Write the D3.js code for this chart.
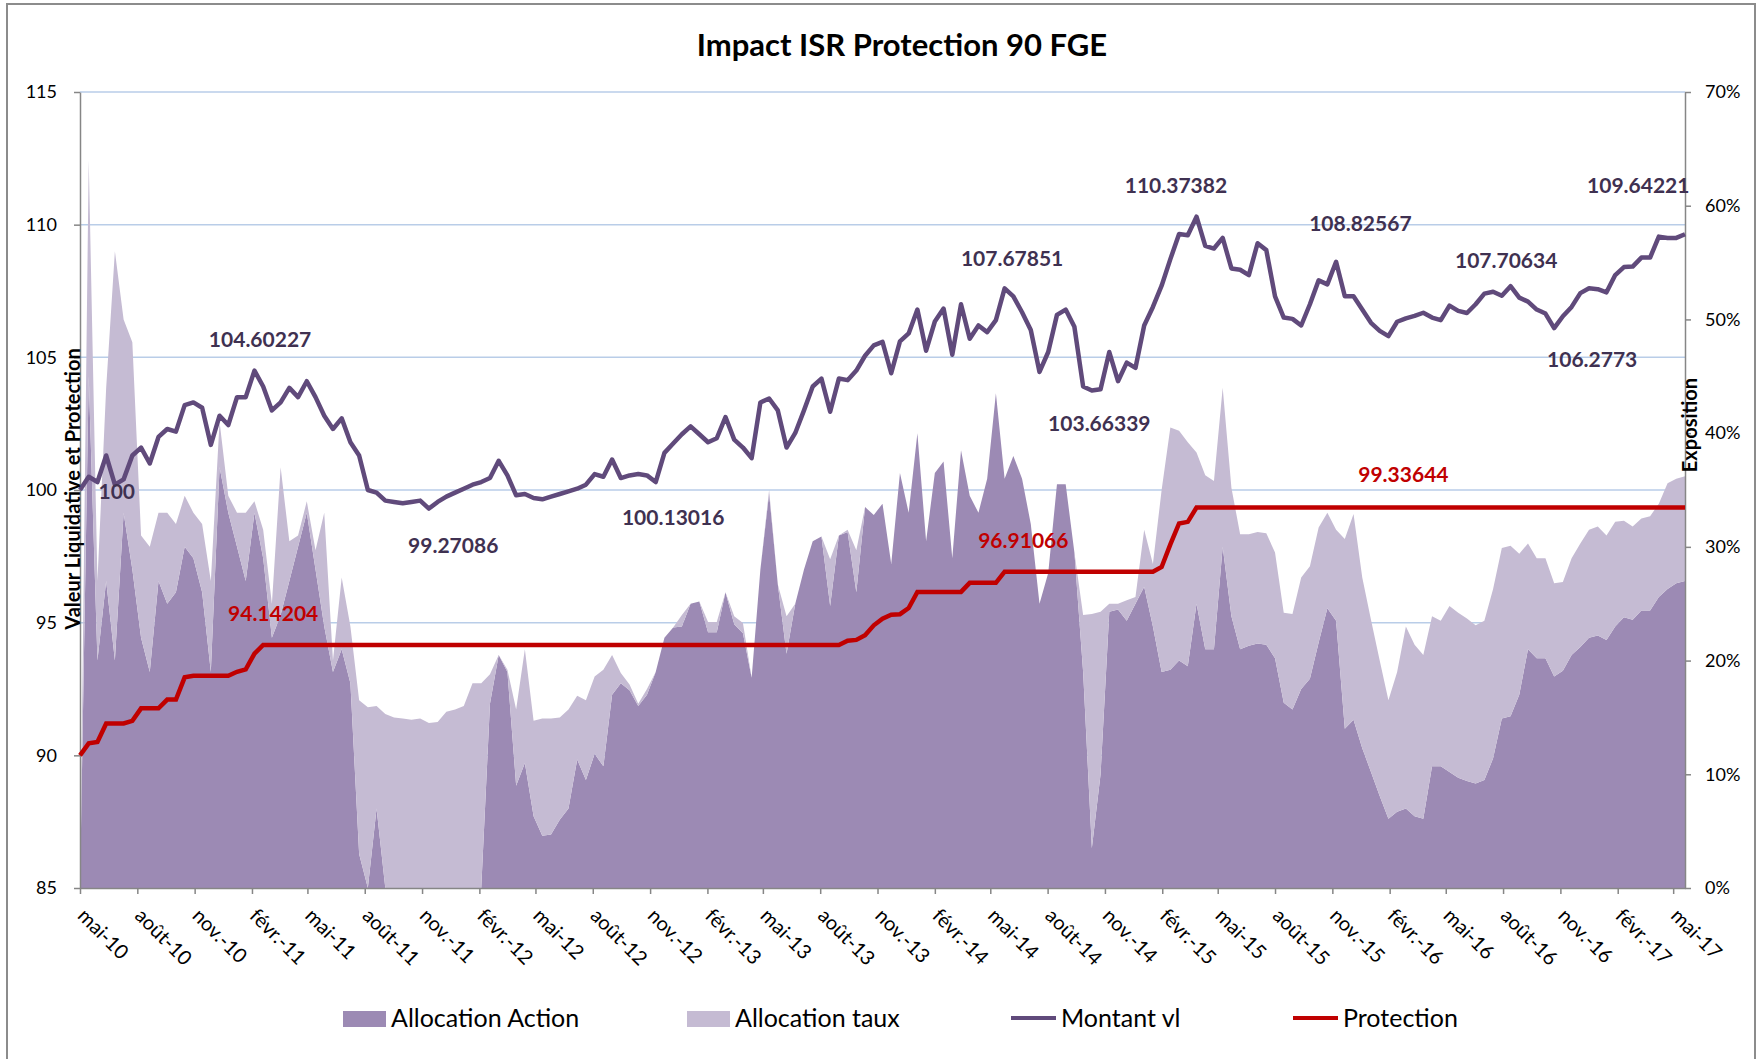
<!DOCTYPE html>
<html>
<head>
<meta charset="utf-8">
<script src="https://cdn.jsdelivr.net/npm/d3@7"></script>
<style>
  body { margin: 0; background: #ffffff; }
  svg { display: block; font-family: Lato, "Open Sans", sans-serif; }
</style>
</head>
<body>
<svg id="main-svg"></svg>
<script>
// DATA (one point every two weeks from the start date)
const START_DATE = "2010-05-01"
const STEP_DAYS = 14

const montantVl = [
  100.0, 100.5, 100.3, 101.3, 100.2, 100.4, 101.3, 101.6, 101.0, 102.0,
  102.3, 102.2, 103.2, 103.3, 103.1, 101.7, 102.8, 102.45, 103.5, 103.5,
  104.5, 103.9, 103.0, 103.3, 103.85, 103.5, 104.1, 103.5, 102.8, 102.3,
  102.7, 101.8, 101.3, 100.0, 99.9, 99.6, 99.55, 99.5, 99.55, 99.6,
  99.3, 99.55, 99.75, 99.9, 100.05, 100.2, 100.3, 100.45, 101.1, 100.55,
  99.8, 99.85, 99.7, 99.65, 99.75, 99.85, 99.95, 100.05, 100.2, 100.6,
  100.5, 101.15, 100.45, 100.55, 100.6, 100.55, 100.3, 101.4, 101.75, 102.1,
  102.4, 102.1, 101.8, 101.95, 102.75, 101.9, 101.6, 101.2, 103.3, 103.45,
  103.0, 101.6, 102.15, 103.0, 103.9, 104.2, 102.95, 104.2, 104.14, 104.5,
  105.06, 105.45, 105.58, 104.4, 105.6, 105.9, 106.8, 105.25, 106.35, 106.84,
  105.1, 107.0, 105.7, 106.2, 105.95, 106.4, 107.6, 107.3, 106.7, 106.03,
  104.45, 105.2, 106.6, 106.8, 106.15, 103.9, 103.75, 103.8, 105.2, 104.1,
  104.8, 104.6, 106.2, 106.9, 107.7, 108.7, 109.65, 109.6, 110.3, 109.2,
  109.1, 109.5, 108.35, 108.3, 108.1, 109.3, 109.04, 107.3, 106.5, 106.45,
  106.2, 107.0, 107.9, 107.75, 108.6, 107.3, 107.3, 106.8, 106.3, 106.0,
  105.8, 106.34, 106.47, 106.56, 106.68, 106.5, 106.4, 106.95, 106.75, 106.67,
  107.0, 107.4, 107.47, 107.32, 107.68, 107.25, 107.1, 106.8, 106.65, 106.1,
  106.55, 106.9, 107.42, 107.6, 107.57, 107.45, 108.1, 108.4, 108.42, 108.76,
  108.76, 109.55, 109.5, 109.5, 109.64
]

const protection = [
  90.0, 90.45, 90.5, 91.2, 91.2, 91.2, 91.3, 91.77, 91.77, 91.77,
  92.1, 92.1, 92.94, 93.0, 93.0, 93.0, 93.0, 93.0, 93.15, 93.24,
  93.83, 94.16, 94.16, 94.16, 94.16, 94.16, 94.16, 94.16, 94.16, 94.16,
  94.16, 94.16, 94.16, 94.16, 94.16, 94.16, 94.16, 94.16, 94.16, 94.16,
  94.16, 94.16, 94.16, 94.16, 94.16, 94.16, 94.16, 94.16, 94.16, 94.16,
  94.16, 94.16, 94.16, 94.16, 94.16, 94.16, 94.16, 94.16, 94.16, 94.16,
  94.16, 94.16, 94.16, 94.16, 94.16, 94.16, 94.16, 94.16, 94.16, 94.16,
  94.16, 94.16, 94.16, 94.16, 94.16, 94.16, 94.16, 94.16, 94.16, 94.16,
  94.16, 94.16, 94.16, 94.16, 94.16, 94.16, 94.16, 94.16, 94.32, 94.35,
  94.53, 94.9, 95.15, 95.3, 95.32, 95.55, 96.16, 96.16, 96.16, 96.16,
  96.16, 96.16, 96.5, 96.5, 96.5, 96.5, 96.92, 96.92, 96.92, 96.92,
  96.92, 96.92, 96.92, 96.92, 96.92, 96.92, 96.92, 96.92, 96.92, 96.92,
  96.92, 96.92, 96.92, 96.92, 97.1, 97.95, 98.74, 98.8, 99.34, 99.34,
  99.34, 99.34, 99.34, 99.34, 99.34, 99.34, 99.34, 99.34, 99.34, 99.34,
  99.34, 99.34, 99.34, 99.34, 99.34, 99.34, 99.34, 99.34, 99.34, 99.34,
  99.34, 99.34, 99.34, 99.34, 99.34, 99.34, 99.34, 99.34, 99.34, 99.34,
  99.34, 99.34, 99.34, 99.34, 99.34, 99.34, 99.34, 99.34, 99.34, 99.34,
  99.34, 99.34, 99.34, 99.34, 99.34, 99.34, 99.34, 99.34, 99.34, 99.34,
  99.34, 99.34, 99.34, 99.34, 99.34
]

// exposition, in %
const allocationAction = [
  0, 45, 20, 27, 20, 33, 28, 22, 19, 27,
  25, 26, 30, 29, 26, 19, 37, 33, 30, 27,
  33, 29, 22, 24, 27, 30, 33, 28, 23, 19,
  21, 18, 3, 0, 7, 0, 0, 0, 0, 0,
  0, 0, 0, 0, 0, 0, 0, 16.2, 20.5, 19,
  9, 11, 6.3, 4.6, 4.7, 6, 7, 11.3, 9.5, 11.8,
  10.7, 17, 18, 17.4, 16, 17, 19, 22, 22.9, 23,
  25, 25.2, 22.5, 22.5, 26, 23.2, 22.4, 18.5, 28, 34.7,
  26.7, 20.6, 25, 28, 30.5, 30.9, 24.8, 31, 31.3, 26,
  33.5, 32.8, 33.8, 28.5, 36.5, 33, 40, 30.5, 36.5, 37.5,
  29, 38.5, 34.5, 33, 36, 43.5, 36, 38, 36, 32,
  25, 27.7, 35.5, 35.5, 29.5, 19, 3.5, 10, 24.3, 24.5,
  23.5, 25, 26.5, 23, 19, 19.2, 20, 19.5, 25, 21,
  21, 30, 23.9, 21, 21.3, 21.5, 21.4, 20.2, 16.3, 15.7,
  17.5, 18.4, 21.6, 24.6, 23.5, 14, 14.8, 12.3, 10.2, 8.1,
  6.1, 6.7, 7, 6.3, 6.1, 10.7, 10.7, 10.2, 9.7, 9.4,
  9.2, 9.5, 11.4, 14.9, 15.1, 17, 21, 20.2, 20.2, 18.6,
  19.1, 20.5, 21.2, 22, 22.2, 21.8, 23, 23.8, 23.6, 24.4,
  24.4, 25.6, 26.3, 26.8, 27
]

const allocationTaux = [
  0, 19, 7, 17, 36, 17, 20, 9, 11, 6,
  8, 6, 4.5, 4, 6, 8, 4, 1.5, 3, 6,
  1, 2.5, 3, 13, 3.5, 1, 1, 1.7, 10, 1,
  6.3, 5, 13.5, 15.9, 9, 15.3, 15, 14.9, 14.8, 14.9,
  14.5, 14.6, 15.5, 15.7, 16, 18, 18, 2.6, 0, 0.2,
  6.7, 10, 8.4, 10.3, 10.2, 9, 8.7, 5.6, 7, 6.8,
  8.5, 3.5, 0.9, 0.5, 0.2, 0.5, 0, 0, 0, 1,
  0, 0, 0.9, 0.9, 0, 0.7, 0.9, 0, 0, 0.3,
  0, 3.3, 0, 0, 0, 0, 4.1, 0, 0.2, 3.7,
  0, 0, 0, 0, 0, 0, 0, 0, 0, 0,
  0, 0, 0, 0, 0, 0, 0, 0, 0, 0,
  0, 0, 0, 0, 0, 5, 20.6, 14.3, 0.7, 0.5,
  1.8, 0.6, 5, 5.5, 16, 21.3, 20.2, 19.7, 13.3, 15.3,
  14.8, 14, 11.3, 10.1, 9.8, 9.8, 9.8, 9.3, 7.9, 8.4,
  9.8, 9.9, 10.1, 8.4, 8, 16.7, 18.1, 15, 13.4, 11.9,
  10.4, 12.3, 16, 15.1, 14.4, 13.2, 12.8, 14.6, 14.5, 14.3,
  13.9, 14, 14.9, 15, 15, 12.4, 9.3, 8.8, 8.8, 8.2,
  7.8, 8.5, 9.1, 9.5, 9.6, 9.2, 9.2, 8.5, 8.2, 8.1,
  8.3, 8.2, 9.3, 9.2, 9.2
]

const tickLabels = [
  "mai-10", "août-10", "nov.-10",
  "févr.-11", "mai-11", "août-11", "nov.-11",
  "févr.-12", "mai-12", "août-12", "nov.-12",
  "févr.-13", "mai-13", "août-13", "nov.-13",
  "févr.-14", "mai-14", "août-14", "nov.-14",
  "févr.-15", "mai-15", "août-15", "nov.-15",
  "févr.-16", "mai-16", "août-16", "nov.-16",
  "févr.-17", "mai-17"
]

const montantLabelDates = ["2010-06-29", "2011-02-14", "2011-12-21", "2012-12-08", "2014-06-05", "2014-10-23",
  "2015-02-23", "2015-12-16", "2016-08-06", "2016-12-22", "2017-03-06"]
const montantLabelValues = [100, 104.60227, 99.27086, 100.13016, 107.67851, 103.66339,
  110.37382, 108.82567, 107.70634, 106.2773, 109.64221]
const protectionLabelDates = ["2011-03-07", "2014-06-23", "2016-02-23"]
const protectionLabelValues = [94.14204, 96.91066, 99.33644]

const legendNames = ["Allocation Action", "Allocation taux", "Montant vl", "Protection"]

// FIXED SPACING VARIABLES
const CANVAS_WIDTH = 1761
const CANVAS_HEIGHT = 1059
const PLOT_LEFT = 80
const PLOT_RIGHT = 1685
const PLOT_TOP = 92
const PLOT_BOTTOM = 888
const X_DOMAIN_END = "2017-05-20"
const MONTANT_LABEL_DY = [0, -29, 35, 30, -29, 30, -30, -33, -26, 35, -50]
const PROTECTION_LABEL_DY = [-33, -32, -34]
const LEGEND_Y = 1027
const LEGEND_X = [343, 687, 1011, 1293]

// STYLE VARIABLES
const ACTION_COLOR = "#9c8ab4"
const TAUX_COLOR = "#c5bbd3"
const MONTANT_COLOR = "#604a7b"
const PROTECTION_COLOR = "#c00000"
const GRID_COLOR = "#b9cde8"
const AXIS_COLOR = "#868686"
const LABEL_COLOR = "#3f3151"

const parseDate = d3.timeParse("%Y-%m-%d")
const startDate = parseDate(START_DATE)
const dates = montantVl.map((_, i) => d3.timeDay.offset(startDate, i * STEP_DAYS))

const table = dates.map((date, i) => ({
  date,
  montant: montantVl[i],
  protection: protection[i],
  action: allocationAction[i],
  taux: allocationTaux[i]
}))

const x = d3.scaleTime([startDate, parseDate(X_DOMAIN_END)], [PLOT_LEFT, PLOT_RIGHT])
const yLeft = d3.scaleLinear([85, 115], [PLOT_BOTTOM, PLOT_TOP])
const yRight = d3.scaleLinear([0, 70], [PLOT_BOTTOM, PLOT_TOP])

const svg = d3.select("#main-svg")
  .attr("width", CANVAS_WIDTH)
  .attr("height", CANVAS_HEIGHT)

svg.append("rect")
  .attr("width", CANVAS_WIDTH)
  .attr("height", CANVAS_HEIGHT)
  .attr("fill", "#ffffff")

// chart frame
svg.append("rect")
  .attr("x", 7)
  .attr("y", 4)
  .attr("width", 1748)
  .attr("height", 1100)
  .attr("fill", "none")
  .attr("stroke", "#8c8c8c")
  .attr("stroke-width", 2)

svg.append("text")
  .attr("x", 902)
  .attr("y", 56)
  .attr("text-anchor", "middle")
  .style("font-size", "31px")
  .style("font-weight", "bold")
  .text("Impact ISR Protection 90 FGE")

// gridlines
const leftTicks = d3.range(85, 116, 5)
svg.append("g")
  .selectAll("line")
  .data(leftTicks.filter(d => d > 85))
  .join("line")
  .attr("x1", PLOT_LEFT)
  .attr("x2", PLOT_RIGHT)
  .attr("y1", d => yLeft(d))
  .attr("y2", d => yLeft(d))
  .attr("stroke", GRID_COLOR)
  .attr("stroke-width", 1.5)

// areas (stacked: taux on top of action)
const stacked = d3.stack().keys(["action", "taux"])(table)
const area = d3.area()
  .x(d => x(d.data.date))
  .y0(d => yRight(d[0]))
  .y1(d => yRight(d[1]))

svg.append("g")
  .selectAll("path")
  .data(stacked)
  .join("path")
  .attr("d", area)
  .attr("fill", (_, i) => i === 0 ? ACTION_COLOR : TAUX_COLOR)

// axes
const xAxis = svg.append("g")
  .attr("transform", `translate(0 ${PLOT_BOTTOM})`)
  .call(d3.axisBottom(x)
    .tickValues(d3.timeMonth.range(startDate, parseDate("2017-05-02"), 3))
    .tickFormat((_, i) => tickLabels[i])
    .tickSize(6)
    .tickSizeOuter(0))

const leftAxis = svg.append("g")
  .attr("transform", `translate(${PLOT_LEFT} 0)`)
  .call(d3.axisLeft(yLeft).tickValues(leftTicks).tickSize(6).tickPadding(17).tickSizeOuter(0))

const rightAxis = svg.append("g")
  .attr("transform", `translate(${PLOT_RIGHT} 0)`)
  .call(d3.axisRight(yRight).tickValues(d3.range(0, 71, 10)).tickFormat(d => d + "%")
    .tickSize(6).tickPadding(14).tickSizeOuter(0))

;[xAxis, leftAxis, rightAxis].forEach(axis => {
  axis.attr("font-family", null).attr("font-size", null)
  axis.selectAll(".domain, line").attr("stroke", AXIS_COLOR).attr("stroke-width", 1.5)
  axis.selectAll("text").style("font-size", "18px").attr("fill", "#000000")
})

xAxis.selectAll("text")
  .attr("x", 0)
  .attr("y", 0)
  .attr("dy", null)
  .attr("transform", "translate(-4 29) rotate(45)")
  .style("text-anchor", "start")
  .style("font-size", "20px")

// series lines
svg.append("path")
  .datum(table)
  .attr("d", d3.line().x(d => x(d.date)).y(d => yLeft(d.protection)))
  .attr("fill", "none")
  .attr("stroke", PROTECTION_COLOR)
  .attr("stroke-width", 4.5)

svg.append("path")
  .datum(table)
  .attr("d", d3.line().x(d => x(d.date)).y(d => yLeft(d.montant)))
  .attr("fill", "none")
  .attr("stroke", MONTANT_COLOR)
  .attr("stroke-width", 4.5)
  .attr("stroke-linejoin", "round")

// data labels
svg.append("g")
  .selectAll("text")
  .data(montantLabelValues)
  .join("text")
  .attr("x", (_, i) => x(parseDate(montantLabelDates[i])))
  .attr("y", (d, i) => yLeft(d) + MONTANT_LABEL_DY[i])
  .attr("text-anchor", "middle")
  .attr("dominant-baseline", "central")
  .attr("fill", LABEL_COLOR)
  .style("font-size", "21px")
  .style("font-weight", "bold")
  .text(d => String(d))

svg.append("g")
  .selectAll("text")
  .data(protectionLabelValues)
  .join("text")
  .attr("x", (_, i) => x(parseDate(protectionLabelDates[i])))
  .attr("y", (d, i) => yLeft(d) + PROTECTION_LABEL_DY[i])
  .attr("text-anchor", "middle")
  .attr("dominant-baseline", "central")
  .attr("fill", PROTECTION_COLOR)
  .style("font-size", "21px")
  .style("font-weight", "bold")
  .text(d => String(d))

// axis titles
svg.append("text")
  .attr("transform", "translate(72 489) rotate(-90)")
  .attr("text-anchor", "middle")
  .attr("dominant-baseline", "central")
  .style("font-size", "20px")
  .style("font-weight", "bold")
  .text("Valeur Liquidative et Protection")

svg.append("text")
  .attr("transform", "translate(1689 425) rotate(-90)")
  .attr("text-anchor", "middle")
  .attr("dominant-baseline", "central")
  .style("font-size", "20px")
  .style("font-weight", "bold")
  .text("Exposition")

// legend
const legend = svg.append("g")
legendNames.forEach((name, i) => {
  const lx = LEGEND_X[i]
  if (i < 2) {
    legend.append("rect")
      .attr("x", lx)
      .attr("y", LEGEND_Y - 16)
      .attr("width", 43)
      .attr("height", 16)
      .attr("fill", i === 0 ? ACTION_COLOR : TAUX_COLOR)
  } else {
    legend.append("line")
      .attr("x1", lx)
      .attr("x2", lx + 45)
      .attr("y1", LEGEND_Y - 9)
      .attr("y2", LEGEND_Y - 9)
      .attr("stroke", i === 2 ? MONTANT_COLOR : PROTECTION_COLOR)
      .attr("stroke-width", 4)
  }
  legend.append("text")
    .attr("x", lx + (i < 2 ? 48 : 50))
    .attr("y", LEGEND_Y)
    .style("font-size", "25px")
    .text(name)
})
</script>
</body>
</html>
